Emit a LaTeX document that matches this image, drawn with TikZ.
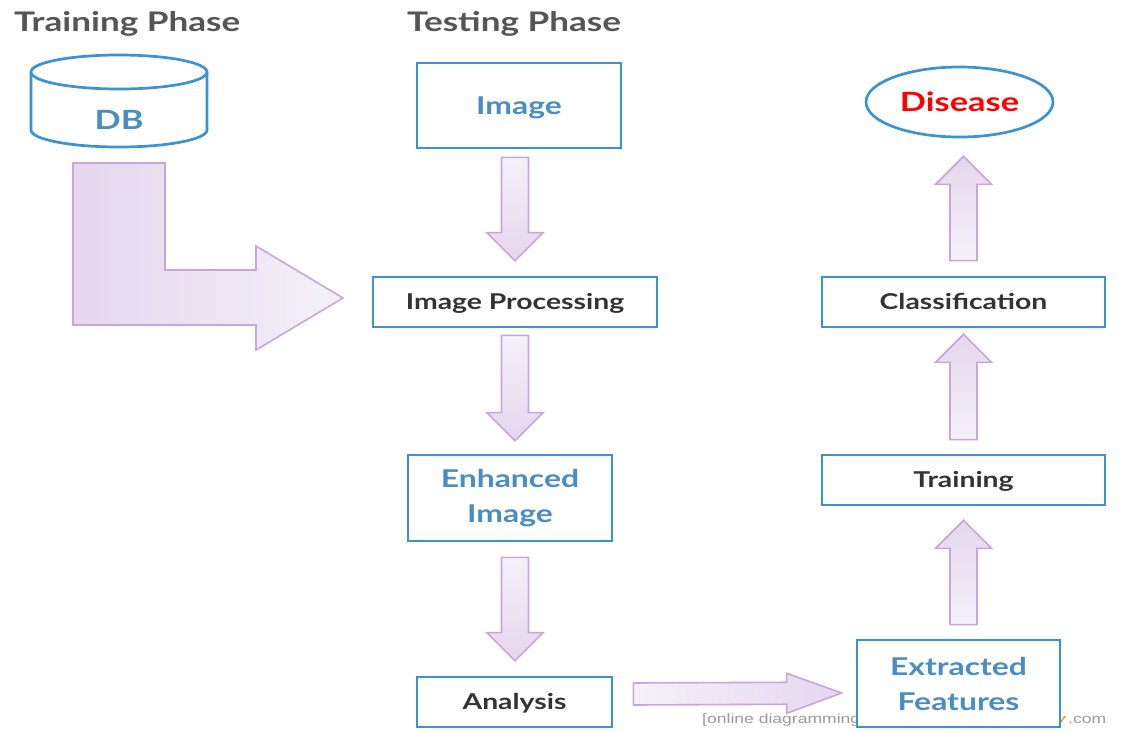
\documentclass[tikz,border=0pt]{standalone}
\usepackage{fontspec}
\setmainfont{Lato}[FakeStretch=1.3]
\newfontfamily\markfont{Liberation Sans}[FakeStretch=1.3]
\usepackage{xcolor}
\usepackage{tikz}
\usetikzlibrary{calc, shapes.geometric}
\definecolor{boxBlue}{HTML}{3A93D3}
\definecolor{textBlue}{HTML}{4A8CC4}
\definecolor{textDark}{HTML}{333333}
\definecolor{titleGray}{HTML}{555555}
\definecolor{arrowLine}{HTML}{C9A6D9}
\definecolor{arrowDark}{HTML}{E5D7EE}
\definecolor{arrowLight}{HTML}{F4F1F8}
\definecolor{markGray}{HTML}{9A9A9A}
\definecolor{markOrange}{HTML}{F5A623}

\tikzset{
    fat shaft/.store in=\fatshaft, fat head/.store in=\fathead, fat len/.store in=\fatlen,
    fat shaft=13.5pt, fat head=28pt, fat len=28pt,
    fatbody/.style={draw=arrowLine, line width=1.6pt, line join=miter},
    phaseTitle/.style={font=\fontsize{27}{30}\selectfont\bfseries, text=titleGray, inner sep=0pt},
    stepBox/.style={draw=boxBlue, line width=2.7pt, fill=white, align=center,
        text height=15.7pt, text depth=0pt,
        font=\fontsize{21.8}{35}\selectfont\bfseries, text=textDark},
    blueBox/.style={stepBox, text=textBlue, text height=17.6pt,
        font=\fontsize{24.5}{35}\selectfont\bfseries},
    twoLine/.style={stepBox, text=textBlue, text height=, text depth=,
        font=\fontsize{24.5}{35}\selectfont\bfseries},
    bigText/.style={text height=19pt, text depth=0pt, font=\fontsize{26.5}{30}\selectfont\bfseries},
    dbLine/.style={draw=boxBlue, line width=2.7pt, fill=white},
}
% big outlined arrow between two points
\newcommand{\fatarrow}[3][]{%
    \draw[fatbody,#1] (#2) coordinate (fa-s) (#3) coordinate (fa-e)
        ($(fa-e)!\fatlen!(fa-s)$) coordinate (fa-b)
        ($(fa-s)!\fatshaft!90:(fa-e)$) -- ($(fa-b)!\fatshaft!90:(fa-e)$)
        -- ($(fa-b)!\fathead!90:(fa-e)$) -- (fa-e)
        -- ($(fa-b)!\fathead!-90:(fa-e)$) -- ($(fa-b)!\fatshaft!-90:(fa-e)$)
        -- ($(fa-s)!\fatshaft!-90:(fa-e)$) -- cycle;}

\begin{document}
\begin{tikzpicture}[x=1pt, y=-1pt]
    \useasboundingbox (0,0) rectangle (1121,732);

    \node[phaseTitle, anchor=base west] (trainTitle) at (14,31) {Training Phase};
    \node[phaseTitle, anchor=base west] (testTitle) at (407,31) {Testing Phase};

    % database cylinder
    \draw[dbLine] (31,72) -- (31,130) arc[start angle=180, end angle=360, x radius=88pt, y radius=17pt] -- (207,72);
    \draw[dbLine] (119,72) ellipse[x radius=88pt, y radius=17pt];
    \node[bigText, text=textBlue] (db) at (119,120) {DB};

    \draw[fatbody, left color=arrowDark, right color=arrowLight]
        (73,163) -- (165,163) -- (165,270) -- (256,270) -- (256,246) -- (343,298)
        -- (256,350) -- (256,325) -- (73,325) -- cycle;

    % watermark, half hidden
    \node[anchor=west, text=markGray, font=\markfont\fontsize{13.5}{16}\selectfont, inner sep=0pt] (markL) at (702,720) {[online diagramming \& design]};
    \node[anchor=west, font=\markfont\fontsize{13.5}{16}\selectfont, inner sep=0pt] (markR) at (1056,721) {\textcolor{markOrange}{\bfseries\itshape y}\,\textcolor{markGray}{.com}};

    % testing column
    \node[blueBox, minimum width=204pt, minimum height=85pt] (img) at (519,105.5) {Image};
    \node[stepBox, minimum width=284pt, minimum height=50pt] (proc) at (515,302) {Image Processing};
    \node[twoLine, minimum width=204pt, minimum height=86pt] (enh) at (510,498) {\raisebox{-4pt}{Enhanced}\\\raisebox{-4pt}{Image}};
    \node[stepBox, minimum width=195pt, minimum height=50pt] (ana) at (514.5,702) {Analysis};

    % right column
    \node[twoLine, minimum width=203pt, minimum height=87pt] (ext) at (958.5,683.5) {Extracted\\Features};
    \node[stepBox, minimum width=283pt, minimum height=50pt] (train) at (963.5,480) {Training};
    \node[stepBox, minimum width=283pt, minimum height=50pt] (class) at (963.5,302) {Classification};
    \node[ellipse, draw=boxBlue, line width=2.7pt, minimum width=187pt, minimum height=70pt,
        bigText, text=red] (dis) at (959.5,102) {Disease};

    \fatarrow[top color=arrowLight, bottom color=arrowDark]{$(proc.north |- img.south)+(0,8)$}{$(proc.north)+(0,-15)$}
    \fatarrow[top color=arrowLight, bottom color=arrowDark]{$(proc.south)+(0,7)$}{$(proc.south |- enh.north)+(0,-13)$}
    \fatarrow[top color=arrowLight, bottom color=arrowDark]{$(proc.south |- enh.south)+(0,15)$}{$(proc.south |- ana.north)+(0,-15)$}
    \fatarrow[fat shaft=11pt, fat head=20pt, fat len=55pt, left color=arrowLight, right color=arrowDark]{$(ana.east)+(20,-8)$}{$(ext.west |- ana.east)+(-14,-9)$}

    \fatarrow[top color=arrowDark, bottom color=arrowLight]{$(train.south |- ext.north)+(0,-14)$}{$(train.south)+(0,14)$}
    \fatarrow[top color=arrowDark, bottom color=arrowLight]{$(train.north)+(0,-14)$}{$(class.south)+(0,6)$}
    \fatarrow[top color=arrowDark, bottom color=arrowLight]{$(class.north)+(0,-15)$}{$(class.north |- dis.south)+(0,18)$}
\end{tikzpicture}
\end{document}
